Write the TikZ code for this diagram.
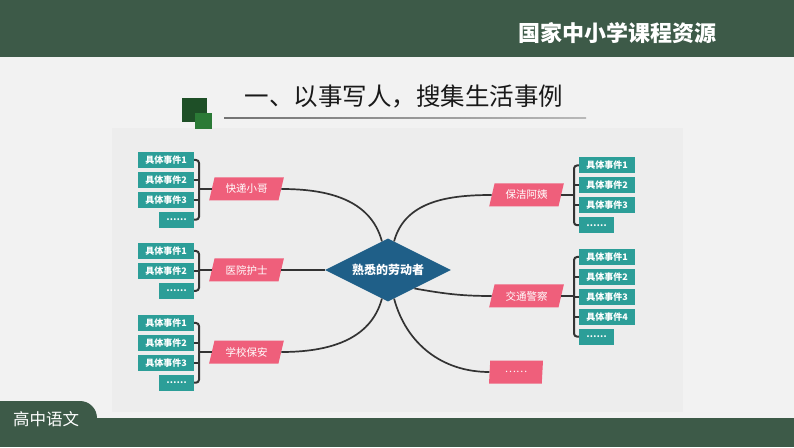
\documentclass[tikz,border=0pt]{standalone}
\usepackage{fontspec}
\setmainfont{Noto Sans CJK SC}
\usetikzlibrary{positioning,shapes.geometric}

\definecolor{bargreen}{HTML}{3D5A48}
\definecolor{pagebg}{HTML}{F2F2F2}
\definecolor{panelbg}{HTML}{EDEDED}
\definecolor{sqdark}{HTML}{1E4F27}
\definecolor{sqlight}{HTML}{2B7A36}
\definecolor{eventteal}{HTML}{2C9E98}
\definecolor{personpink}{HTML}{EF5F7B}
\definecolor{hubblue}{HTML}{1F5F88}
\definecolor{linegray}{HTML}{333333}

\begin{document}
\begin{tikzpicture}[x=1pt,y=1pt]

% definitions
\tikzstyle{event} = [rectangle, minimum width=56pt, minimum height=16pt, inner sep=0pt, text centered, fill=eventteal, text=white, font=\fontsize{9}{9}\selectfont\bfseries]

\tikzstyle{eventmore} = [event, minimum width=35pt]

\tikzstyle{person} = [trapezium, trapezium left angle=70, trapezium right angle=110, trapezium stretches=true, minimum width=75pt, minimum height=23pt, inner sep=0pt, text centered, fill=personpink, text=white, font=\fontsize{10.5}{11}\selectfont]

\tikzstyle{core} = [diamond, aspect=2, minimum width=126pt, minimum height=63pt, inner sep=0pt, text centered, fill=hubblue, text=white, font=\fontsize{12}{12}\selectfont\bfseries]

\tikzstyle{link} = [draw=linegray, line width=1.7pt]

\tikzstyle{brace} = [draw=linegray, line width=2pt, rounded corners=3pt]

% the page
\useasboundingbox (0,0) rectangle (794,447);
\fill [pagebg] (0,0) rectangle (794,447);
\fill [panelbg] (112,35) rectangle (683,319);
\fill [bargreen] (0,390) rectangle (794,447);
\fill [bargreen] (0,0) rectangle (794,29);
\fill [bargreen] (0,20) -- (0,46) -- (80,46) arc [start angle=90, end angle=0, radius=17] -- (97,20) -- cycle;
\fill [sqdark] (182,325) rectangle (207,349);
\fill [sqlight] (195,318) rectangle (212,334);
\shade [left color=gray!90!black, right color=gray!55] (224,328.4) rectangle (586,329.6);

\node (site) at (617,414) {\fontsize{22}{22}\selectfont\bfseries\color{white}国家中小学课程资源};
\node (title) at (404,351) {\fontsize{24.5}{25}\selectfont\color{black!90}一、以事写人，搜集生活事例};
\node (grade) at (46,28) {\fontsize{16.5}{17}\selectfont\color{white}高中语文};

% the graph
\node (hub) [core] at (388,177) {熟悉的劳动者};

\node (p1) [person] at (246.5,258) {快递小哥};
\node (p2) [person] at (246.5,177) {医院护士};
\node (p3) [person] at (246.5,95) {学校保安};
\node (p4) [person] at (526.5,252) {保洁阿姨};
\node (p5) [person] at (526.5,151) {交通警察};
\node (p6) [person, minimum width=54pt] at (516,75) {……};

\node (e11) [event] at (166,287) {具体事件1};
\node (e12) [event, below=3.5pt of e11] {具体事件2};
\node (e13) [event, below=3.5pt of e12] {具体事件3};
\node (e14) [eventmore, below left=3.5pt and 0pt of e13.south east] {……};

\node (e21) [event] at (166,196) {具体事件1};
\node (e22) [event, below=3.5pt of e21] {具体事件2};
\node (e23) [eventmore, below left=3.5pt and 0pt of e22.south east] {……};

\node (e31) [event] at (166,124) {具体事件1};
\node (e32) [event, below=3.5pt of e31] {具体事件2};
\node (e33) [event, below=3.5pt of e32] {具体事件3};
\node (e34) [eventmore, below left=3.5pt and 0pt of e33.south east] {……};

\node (e41) [event] at (607,281.5) {具体事件1};
\node (e42) [event, below=3.5pt of e41] {具体事件2};
\node (e43) [event, below=3.5pt of e42] {具体事件3};
\node (e44) [eventmore, below right=3.5pt and 0pt of e43.south west] {……};

\node (e51) [event] at (607,190) {具体事件1};
\node (e52) [event, below=3.5pt of e51] {具体事件2};
\node (e53) [event, below=3.5pt of e52] {具体事件3};
\node (e54) [event, below=3.5pt of e53] {具体事件4};
\node (e55) [eventmore, below right=3.5pt and 0pt of e54.south west] {……};

\coordinate (b1) at (199,258);
\coordinate (b2) at (199,177);
\coordinate (b3) at (199,95);
\coordinate (b4) at (574,252);
\coordinate (b5) at (574,151);

\draw [brace] (e11.east) -| (b1) |- (e14.east);
\draw [brace] (e12.east) -- (e12.east -| b1);
\draw [brace] (e13.east) -- (e13.east -| b1);
\draw [brace] (b1) -- (p1.west);

\draw [brace] (e21.east) -| (b2) |- (e23.east);
\draw [brace] (e22.east) -- (e22.east -| b2);
\draw [brace] (b2) -- (p2.west);

\draw [brace] (e31.east) -| (b3) |- (e34.east);
\draw [brace] (e32.east) -- (e32.east -| b3);
\draw [brace] (e33.east) -- (e33.east -| b3);
\draw [brace] (b3) -- (p3.west);

\draw [brace] (e41.west) -| (b4) |- (e44.west);
\draw [brace] (e42.west) -- (e42.west -| b4);
\draw [brace] (e43.west) -- (e43.west -| b4);
\draw [brace] (b4) -- (p4.east);

\draw [brace] (e51.west) -| (b5) |- (e55.west);
\draw [brace] (e52.west) -- (e52.west -| b5);
\draw [brace] (e53.west) -- (e53.west -| b5);
\draw [brace] (e54.west) -- (e54.west -| b5);
\draw [brace] (b5) -- (p5.east);

\draw [link] (p1.east) to [out=0, in=105] (hub.102);
\draw [link] (hub.78) to [out=75, in=180] (p4.west);
\draw [link] (hub.west) -- (p2.east);
\draw [link] (hub.258) to [out=255, in=0] (p3.east);
\draw [link] (hub.-35) to [out=-10, in=180] (p5.west);
\draw [link] (hub.282) to [out=285, in=180] (p6.west);

\end{tikzpicture}
\end{document}
